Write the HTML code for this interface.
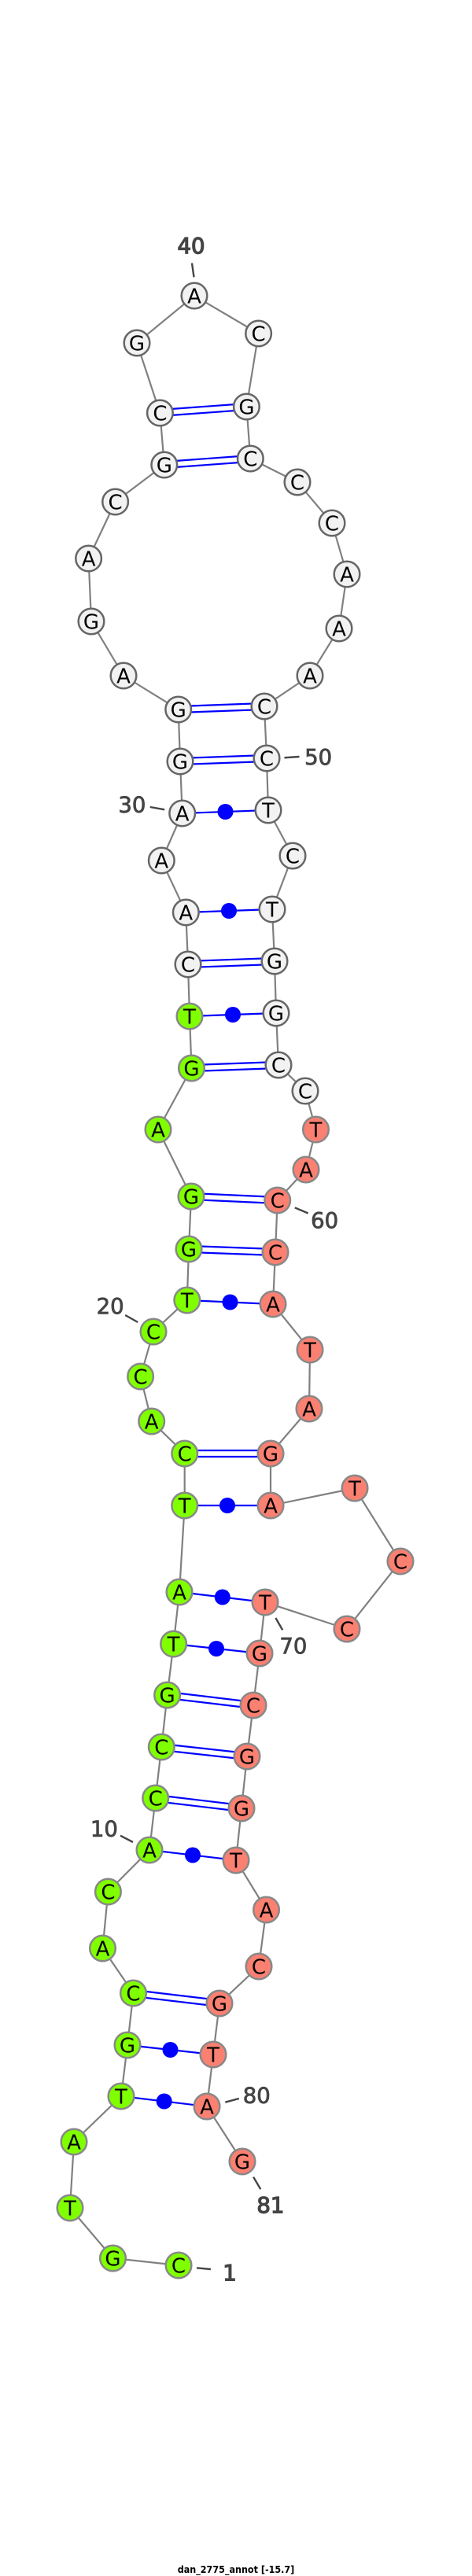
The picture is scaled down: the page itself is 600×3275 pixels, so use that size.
<!DOCTYPE html>
<html><head><meta charset="utf-8"><style>
html,body{margin:0;padding:0;background:#fff}
svg{display:block}
.n text{font:26px "DejaVu Sans",sans-serif;fill:#000;text-anchor:middle}
.w circle{fill:#f2f2f2;stroke:#666;stroke-width:2.5}
.g circle{fill:#7fff00;stroke:#888;stroke-width:2.5}
.r circle{fill:#fa8072;stroke:#888;stroke-width:2.5}
.l text{font:27.5px "DejaVu Sans",sans-serif;fill:#444;stroke:#444;stroke-width:.8;text-anchor:middle}
.l text.b{stroke-width:1.3}
</style></head><body>
<svg width="600" height="3275" viewBox="0 0 600 3275" xmlns="http://www.w3.org/2000/svg">
<polyline fill="none" stroke="#808080" stroke-width="2.2" points="227,2880 143.5,2871 89,2807 94,2723 154,2665 162,2600 169.5,2534 130.5,2477 137.4,2405 190,2352 197.7,2286 205.3,2221 212.6,2155 220.6,2090 228,2024 234.7,1914 234.7,1848 192.7,1807 178.6,1750 195,1693 237.8,1653 240,1588 243,1521 201,1436 243.5,1358 241,1292 239,1226 236.3,1160 205.3,1094 231.7,1034 229,968 226.7,902 157,859 116,790 112.6,710 146.6,638 208.8,591 203.4,525 174,436 247,376 328.6,424 313.4,517 318.3,583 378,613 422,665 441,730 431,799 394,859 336,898 339,964 341,1030 372,1088 346,1156 349,1222 351,1288 354,1354 388,1387 401.5,1436 389,1487 352.7,1526 350,1592 347,1658 394,1716 393,1791 344,1848 344,1914 451,1892 509,1985 441,2071 337,2037 330,2102 322,2168 314,2233 307,2299 300,2365 338.5,2428 329,2500 279,2547 271,2612 263,2678 308,2748"/>
<g stroke="#00f" stroke-width="2.2" fill="none">
<line x1="154" y1="2665" x2="263" y2="2678"/>
<line x1="162" y1="2600" x2="271" y2="2612"/>
<line x1="169.5" y1="2530" x2="279" y2="2543"/><line x1="169.5" y1="2538" x2="279" y2="2551"/>
<line x1="190" y1="2352" x2="300" y2="2365"/>
<line x1="197.7" y1="2282" x2="307" y2="2295"/><line x1="197.7" y1="2290" x2="307" y2="2303"/>
<line x1="205.3" y1="2217" x2="314" y2="2229"/><line x1="205.3" y1="2225" x2="314" y2="2237"/>
<line x1="212.6" y1="2151" x2="322" y2="2164"/><line x1="212.6" y1="2159" x2="322" y2="2172"/>
<line x1="220.6" y1="2090" x2="330" y2="2102"/>
<line x1="228" y1="2024" x2="337" y2="2037"/>
<line x1="234.7" y1="1914" x2="344" y2="1914"/>
<line x1="234.7" y1="1844" x2="344" y2="1844"/><line x1="234.7" y1="1852" x2="344" y2="1852"/>
<line x1="237.8" y1="1653" x2="347" y2="1658"/>
<line x1="240" y1="1584" x2="350" y2="1588"/><line x1="240" y1="1592" x2="350" y2="1596"/>
<line x1="243" y1="1517" x2="352.7" y2="1522"/><line x1="243" y1="1525" x2="352.7" y2="1530"/>
<line x1="243.5" y1="1354" x2="354" y2="1350"/><line x1="243.5" y1="1362" x2="354" y2="1358"/>
<line x1="241" y1="1292" x2="351" y2="1288"/>
<line x1="239" y1="1222" x2="349" y2="1218"/><line x1="239" y1="1230" x2="349" y2="1226"/>
<line x1="236.3" y1="1160" x2="346" y2="1156"/>
<line x1="231.7" y1="1034" x2="341" y2="1030"/>
<line x1="229" y1="964" x2="339" y2="960"/><line x1="229" y1="972" x2="339" y2="968"/>
<line x1="226.7" y1="898" x2="336" y2="894"/><line x1="226.7" y1="906" x2="336" y2="902"/>
<line x1="208.8" y1="587" x2="318.3" y2="579"/><line x1="208.8" y1="595" x2="318.3" y2="587"/>
<line x1="203.4" y1="521" x2="313.4" y2="513"/><line x1="203.4" y1="529" x2="313.4" y2="521"/>
</g>
<g fill="#00f">
<circle cx="208.7" cy="2671.5" r="10"/><circle cx="216.5" cy="2606" r="10"/><circle cx="245" cy="2358.5" r="10"/><circle cx="275" cy="2096" r="10"/><circle cx="282.8" cy="2030.5" r="10"/><circle cx="289" cy="1914" r="10"/><circle cx="292.5" cy="1655.5" r="10"/><circle cx="296" cy="1290" r="10"/><circle cx="291" cy="1158" r="10"/><circle cx="286.5" cy="1032" r="10"/>
</g>
<g class="n">
<g class="g">
<circle cx="227" cy="2880" r="16.3"/><text x="227" y="2889.5">C</text>
<circle cx="143.5" cy="2871" r="16.3"/><text x="143.5" y="2880.5">G</text>
<circle cx="89" cy="2807" r="16.3"/><text x="89" y="2816.5">T</text>
<circle cx="94" cy="2723" r="16.3"/><text x="94" y="2732.5">A</text>
<circle cx="154" cy="2665" r="16.3"/><text x="154" y="2674.5">T</text>
<circle cx="162" cy="2600" r="16.3"/><text x="162" y="2609.5">G</text>
<circle cx="169.5" cy="2534" r="16.3"/><text x="169.5" y="2543.5">C</text>
<circle cx="130.5" cy="2477" r="16.3"/><text x="130.5" y="2486.5">A</text>
<circle cx="137.4" cy="2405" r="16.3"/><text x="137.4" y="2414.5">C</text>
<circle cx="190" cy="2352" r="16.3"/><text x="190" y="2361.5">A</text>
<circle cx="197.7" cy="2286" r="16.3"/><text x="197.7" y="2295.5">C</text>
<circle cx="205.3" cy="2221" r="16.3"/><text x="205.3" y="2230.5">C</text>
<circle cx="212.6" cy="2155" r="16.3"/><text x="212.6" y="2164.5">G</text>
<circle cx="220.6" cy="2090" r="16.3"/><text x="220.6" y="2099.5">T</text>
<circle cx="228" cy="2024" r="16.3"/><text x="228" y="2033.5">A</text>
<circle cx="234.7" cy="1914" r="16.3"/><text x="234.7" y="1923.5">T</text>
<circle cx="234.7" cy="1848" r="16.3"/><text x="234.7" y="1857.5">C</text>
<circle cx="192.7" cy="1807" r="16.3"/><text x="192.7" y="1816.5">A</text>
<circle cx="178.6" cy="1750" r="16.3"/><text x="178.6" y="1759.5">C</text>
<circle cx="195" cy="1693" r="16.3"/><text x="195" y="1702.5">C</text>
<circle cx="237.8" cy="1653" r="16.3"/><text x="237.8" y="1662.5">T</text>
<circle cx="240" cy="1588" r="16.3"/><text x="240" y="1597.5">G</text>
<circle cx="243" cy="1521" r="16.3"/><text x="243" y="1530.5">G</text>
<circle cx="201" cy="1436" r="16.3"/><text x="201" y="1445.5">A</text>
<circle cx="243.5" cy="1358" r="16.3"/><text x="243.5" y="1367.5">G</text>
<circle cx="241" cy="1292" r="16.3"/><text x="241" y="1301.5">T</text>
</g>
<g class="w">
<circle cx="239" cy="1226" r="16.3"/><text x="239" y="1235.5">C</text>
<circle cx="236.3" cy="1160" r="16.3"/><text x="236.3" y="1169.5">A</text>
<circle cx="205.3" cy="1094" r="16.3"/><text x="205.3" y="1103.5">A</text>
<circle cx="231.7" cy="1034" r="16.3"/><text x="231.7" y="1043.5">A</text>
<circle cx="229" cy="968" r="16.3"/><text x="229" y="977.5">G</text>
<circle cx="226.7" cy="902" r="16.3"/><text x="226.7" y="911.5">G</text>
<circle cx="157" cy="859" r="16.3"/><text x="157" y="868.5">A</text>
<circle cx="116" cy="790" r="16.3"/><text x="116" y="799.5">G</text>
<circle cx="112.6" cy="710" r="16.3"/><text x="112.6" y="719.5">A</text>
<circle cx="146.6" cy="638" r="16.3"/><text x="146.6" y="647.5">C</text>
<circle cx="208.8" cy="591" r="16.3"/><text x="208.8" y="600.5">G</text>
<circle cx="203.4" cy="525" r="16.3"/><text x="203.4" y="534.5">C</text>
<circle cx="174" cy="436" r="16.3"/><text x="174" y="445.5">G</text>
<circle cx="247" cy="376" r="16.3"/><text x="247" y="385.5">A</text>
<circle cx="328.6" cy="424" r="16.3"/><text x="328.6" y="433.5">C</text>
<circle cx="313.4" cy="517" r="16.3"/><text x="313.4" y="526.5">G</text>
<circle cx="318.3" cy="583" r="16.3"/><text x="318.3" y="592.5">C</text>
<circle cx="378" cy="613" r="16.3"/><text x="378" y="622.5">C</text>
<circle cx="422" cy="665" r="16.3"/><text x="422" y="674.5">C</text>
<circle cx="441" cy="730" r="16.3"/><text x="441" y="739.5">A</text>
<circle cx="431" cy="799" r="16.3"/><text x="431" y="808.5">A</text>
<circle cx="394" cy="859" r="16.3"/><text x="394" y="868.5">A</text>
<circle cx="336" cy="898" r="16.3"/><text x="336" y="907.5">C</text>
<circle cx="339" cy="964" r="16.3"/><text x="339" y="973.5">C</text>
<circle cx="341" cy="1030" r="16.3"/><text x="341" y="1039.5">T</text>
<circle cx="372" cy="1088" r="16.3"/><text x="372" y="1097.5">C</text>
<circle cx="346" cy="1156" r="16.3"/><text x="346" y="1165.5">T</text>
<circle cx="349" cy="1222" r="16.3"/><text x="349" y="1231.5">G</text>
<circle cx="351" cy="1288" r="16.3"/><text x="351" y="1297.5">G</text>
<circle cx="354" cy="1354" r="16.3"/><text x="354" y="1363.5">C</text>
<circle cx="388" cy="1387" r="16.3"/><text x="388" y="1396.5">C</text>
</g>
<g class="r">
<circle cx="401.5" cy="1436" r="16.3"/><text x="401.5" y="1445.5">T</text>
<circle cx="389" cy="1487" r="16.3"/><text x="389" y="1496.5">A</text>
<circle cx="352.7" cy="1526" r="16.3"/><text x="352.7" y="1535.5">C</text>
<circle cx="350" cy="1592" r="16.3"/><text x="350" y="1601.5">C</text>
<circle cx="347" cy="1658" r="16.3"/><text x="347" y="1667.5">A</text>
<circle cx="394" cy="1716" r="16.3"/><text x="394" y="1725.5">T</text>
<circle cx="393" cy="1791" r="16.3"/><text x="393" y="1800.5">A</text>
<circle cx="344" cy="1848" r="16.3"/><text x="344" y="1857.5">G</text>
<circle cx="344" cy="1914" r="16.3"/><text x="344" y="1923.5">A</text>
<circle cx="451" cy="1892" r="16.3"/><text x="451" y="1901.5">T</text>
<circle cx="509" cy="1985" r="16.3"/><text x="509" y="1994.5">C</text>
<circle cx="441" cy="2071" r="16.3"/><text x="441" y="2080.5">C</text>
<circle cx="337" cy="2037" r="16.3"/><text x="337" y="2046.5">T</text>
<circle cx="330" cy="2102" r="16.3"/><text x="330" y="2111.5">G</text>
<circle cx="322" cy="2168" r="16.3"/><text x="322" y="2177.5">C</text>
<circle cx="314" cy="2233" r="16.3"/><text x="314" y="2242.5">G</text>
<circle cx="307" cy="2299" r="16.3"/><text x="307" y="2308.5">G</text>
<circle cx="300" cy="2365" r="16.3"/><text x="300" y="2374.5">T</text>
<circle cx="338.5" cy="2428" r="16.3"/><text x="338.5" y="2437.5">A</text>
<circle cx="329" cy="2500" r="16.3"/><text x="329" y="2509.5">C</text>
<circle cx="279" cy="2547" r="16.3"/><text x="279" y="2556.5">G</text>
<circle cx="271" cy="2612" r="16.3"/><text x="271" y="2621.5">T</text>
<circle cx="263" cy="2678" r="16.3"/><text x="263" y="2687.5">A</text>
<circle cx="308" cy="2748" r="16.3"/><text x="308" y="2757.5">G</text>
</g>
</g>
<g stroke="#444" stroke-width="2.4" fill="none">
<line x1="244" y1="334.5" x2="246.5" y2="352.3"/>
<line x1="361.5" y1="963.3" x2="380.5" y2="962"/>
<line x1="190.8" y1="1026" x2="209.2" y2="1029.3"/>
<line x1="374.8" y1="1535.3" x2="391.6" y2="1542.5"/>
<line x1="159.2" y1="1672" x2="175.2" y2="1681"/>
<line x1="350.4" y1="2057" x2="359.2" y2="2072.3"/>
<line x1="153" y1="2333.7" x2="169" y2="2342"/>
<line x1="286.3" y1="2672.7" x2="303.8" y2="2668"/>
<line x1="322.1" y1="2767.7" x2="331.3" y2="2783.3"/>
<line x1="250" y1="2883.3" x2="267.9" y2="2885"/>
</g>
<g class="l">
<text class="b" x="243" y="322">40</text>
<text x="404.6" y="972">50</text>
<text x="167.9" y="1032.5">30</text>
<text x="412.6" y="1561">60</text>
<text x="140.1" y="1670">20</text>
<text x="372.9" y="2102">70</text>
<text x="132.4" y="2334.5">10</text>
<text x="326.3" y="2673.5">80</text>
<text class="b" x="343.9" y="2813">81</text>
<text class="b" x="292" y="2899">1</text>
</g>
<text x="225.7" y="3271" textLength="148.6" lengthAdjust="spacingAndGlyphs" style="font:bold 12px 'DejaVu Sans',sans-serif;fill:#000">dan_2775_annot [-15.7]</text>
</svg>
</body></html>
